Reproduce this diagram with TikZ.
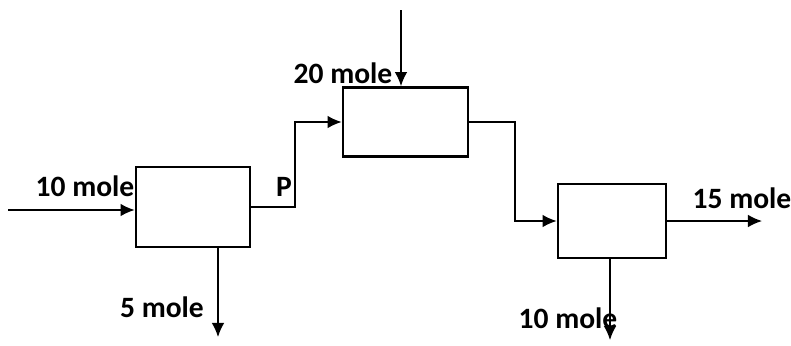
\documentclass[tikz,border=0pt]{standalone}
\usepackage{fontspec}
\setmainfont{Carlito}
\usetikzlibrary{arrows.meta}
\begin{document}
\begin{tikzpicture}[x=0.025cm, y=-0.025cm,
    unit/.style={draw, line width=2pt, minimum width=#1, inner sep=0pt},
    flow/.style={line width=1pt, -{Latex[length=10pt, width=9pt]}},
    lbl/.style={font=\fontsize{21}{24}\selectfont\bfseries, inner sep=0pt}]
  \useasboundingbox (0,0) rectangle (791,345);
  % Unidades
  \node[unit=2.85cm, minimum height=2cm]    (A) at (193,207)   {};
  \node[unit=3.125cm, minimum height=1.725cm] (B) at (405.5,122) {};
  \node[unit=2.7cm, minimum height=1.85cm]  (C) at (612,221)   {};
  % Extremos libres
  \coordinate (in10)  at (8,210);
  \coordinate (in20)  at (401,10);
  \coordinate (out5)  at (218,337);
  \coordinate (out10) at (610,340);
  \coordinate (out15) at (762,221);
  \coordinate (bendP) at (295,160);
  \coordinate (bendQ) at (515,180);
  % Corrientes
  \draw[flow] (in10) -- (in10 -| A.west);
  \draw[flow] (A.east) -| (bendP) |- (B.west);
  \draw[flow] (in20) -- (in20 |- B.north);
  \draw[flow] (B.east) -| (bendQ) |- (C.west);
  \draw[flow] (A.south -| out5) -- (out5);
  \draw[flow] (C.south -| out10) -- (out10);
  \draw[flow] (C.east) -- (out15);
  % Etiquetas
  \node[lbl] (l10)  at (85,186)  {10 mole};
  \node[lbl] (lP)   at (284,187) {P};
  \node[lbl] (l5)   at (162,307) {5 mole};
  \node[lbl] (l20)  at (343,73)  {20 mole};
  \node[lbl] (l15)  at (742,198) {15 mole};
  \node[lbl] (l10b) at (568,318) {10 mole};
\end{tikzpicture}
\end{document}
